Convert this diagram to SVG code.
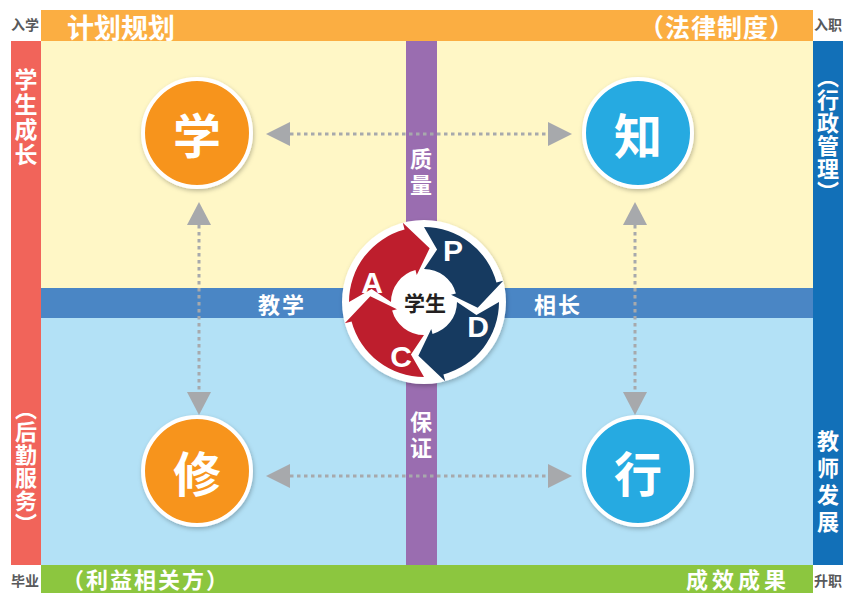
<svg xmlns="http://www.w3.org/2000/svg" xmlns:xlink="http://www.w3.org/1999/xlink" width="843" height="593" viewBox="0 0 843 593">
<style>
.t{font-family:"Noto Sans CJK SC","Noto Sans",sans-serif;font-weight:700;fill:#fff}
.g{font-family:"Noto Sans CJK SC","Noto Sans",sans-serif;font-weight:700;fill:#58595b;font-size:14px}
.v{writing-mode:vertical-rl}
.dot{stroke:#a7a9ac;stroke-width:3;stroke-dasharray:3.5 3.5;fill:none}
.ah{fill:#a7a9ac}
.big{font-size:48px;text-anchor:middle;dominant-baseline:central}
.pd{font-family:"Liberation Sans",Arial,sans-serif;font-weight:700;fill:#fff;font-size:30px;text-anchor:middle;dominant-baseline:central}
</style>
<defs>
<filter id="sh" x="-20%" y="-20%" width="140%" height="140%">
<feDropShadow dx="1" dy="2" stdDeviation="2" flood-color="#000" flood-opacity="0.25"/>
</filter>
<path id="arr" d="M 349 302 A 75 75 0 0 1 404.59 229.56 L 402.78 222.79 L 429.64 248.3 L 416.75 274.95 L 415.46 270.12 A 33 33 0 0 0 391 302 L 371.6 288.94 Z"/>
</defs>

<g id="background">
<rect x="41" y="41" width="772" height="247" fill="#fff7c6"/>
<rect x="41" y="318" width="772" height="247" fill="#b3e1f6"/>
<rect x="41" y="288" width="772" height="30" fill="#4a86c5"/>
<rect x="406" y="41" width="31" height="524" fill="#9a6db0"/>
</g>

<g id="frame-top">
<rect x="41" y="10" width="772" height="31" fill="#fbae42"/>
<text class="t" x="67" y="26" font-size="27" dominant-baseline="central">计划规划</text>
<text class="t" x="795" y="26" font-size="25" dominant-baseline="central" text-anchor="end" letter-spacing="1">（法律制度）</text>
</g>
<g id="frame-left">
<rect x="11" y="41" width="30" height="524" fill="#f1645a"/>
<text class="t v" x="26" y="68" font-size="23" letter-spacing="2">学生成长</text>
<text class="t v" x="26" y="398" font-size="22" letter-spacing="1">（后勤服务）</text>
</g>
<g id="frame-right">
<rect x="813" y="41" width="30" height="524" fill="#1270b8"/>
<text class="t v" x="828" y="66" font-size="22" letter-spacing="1">（行政管理）</text>
<text class="t v" x="828" y="430" font-size="22" letter-spacing="5">教师发展</text>
</g>
<g id="frame-bottom">
<rect x="41" y="565" width="772" height="28" fill="#8cc63f"/>
<text class="t" x="62" y="578" font-size="22" dominant-baseline="central" letter-spacing="2">（利益相关方）</text>
<text class="t" x="790" y="578" font-size="22" dominant-baseline="central" text-anchor="end" letter-spacing="4">成效成果</text>
</g>
<g id="corner-labels">
<text class="g" x="25" y="24" text-anchor="middle" dominant-baseline="central">入学</text>
<text class="g" x="828" y="24" text-anchor="middle" dominant-baseline="central">入职</text>
<text class="g" x="25" y="580" text-anchor="middle" dominant-baseline="central">毕业</text>
<text class="g" x="828" y="580" text-anchor="middle" dominant-baseline="central">升职</text>
</g>
<g id="band-labels">
<text class="t" x="282" y="303" font-size="22" text-anchor="middle" dominant-baseline="central" letter-spacing="2">教学</text>
<text class="t" x="558" y="303" font-size="22" text-anchor="middle" dominant-baseline="central" letter-spacing="2">相长</text>
<text class="t v" x="421" y="148" font-size="22" letter-spacing="4">质量</text>
<text class="t v" x="421" y="411" font-size="22" letter-spacing="4">保证</text>
</g>

<g id="connectors">
<line class="dot" x1="290" y1="134" x2="548" y2="134"/>
<polygon class="ah" points="266,134 290,122 290,146"/>
<polygon class="ah" points="572,134 548,122 548,146"/>
<line class="dot" x1="290" y1="476" x2="548" y2="476"/>
<polygon class="ah" points="266,476 290,464 290,488"/>
<polygon class="ah" points="572,476 548,464 548,488"/>
<line class="dot" x1="199" y1="225" x2="199" y2="392"/>
<polygon class="ah" points="199,202 187,225 211,225"/>
<polygon class="ah" points="199,415 187,392 211,392"/>
<line class="dot" x1="635" y1="225" x2="635" y2="392"/>
<polygon class="ah" points="635,202 623,225 647,225"/>
<polygon class="ah" points="635,415 623,392 647,392"/>
</g>

<g id="node-xue">
<circle cx="197" cy="133" r="54" fill="#f7941d" stroke="#fff" stroke-width="4" filter="url(#sh)"/>
<text class="t big" x="197" y="133">学</text>
</g>
<g id="node-zhi">
<circle cx="638" cy="133" r="54" fill="#27aae1" stroke="#fff" stroke-width="4" filter="url(#sh)"/>
<text class="t big" x="638" y="133">知</text>
</g>
<g id="node-xiu">
<circle cx="197" cy="471" r="54" fill="#f7941d" stroke="#fff" stroke-width="4" filter="url(#sh)"/>
<text class="t big" x="197" y="471">修</text>
</g>
<g id="node-xing">
<circle cx="638" cy="471" r="54" fill="#27aae1" stroke="#fff" stroke-width="4" filter="url(#sh)"/>
<text class="t big" x="638" y="471">行</text>
</g>

<g id="node-pdca">
<circle cx="424" cy="302" r="82" fill="#fff" filter="url(#sh)"/>
<use xlink:href="#arr" fill="#be1e2d"/>
<use xlink:href="#arr" fill="#163a60" transform="rotate(90 424 302)"/>
<use xlink:href="#arr" fill="#163a60" transform="rotate(180 424 302)"/>
<use xlink:href="#arr" fill="#be1e2d" transform="rotate(270 424 302)"/>
<text class="pd" x="453" y="250">P</text>
<text class="pd" x="478" y="326">D</text>
<text class="pd" x="401" y="356">C</text>
<text class="pd" x="372" y="282">A</text>
<text x="425" y="302" font-family="Noto Sans CJK SC,sans-serif" font-weight="700" font-size="21" fill="#231f20" text-anchor="middle" dominant-baseline="central">学生</text>
</g>
</svg>
